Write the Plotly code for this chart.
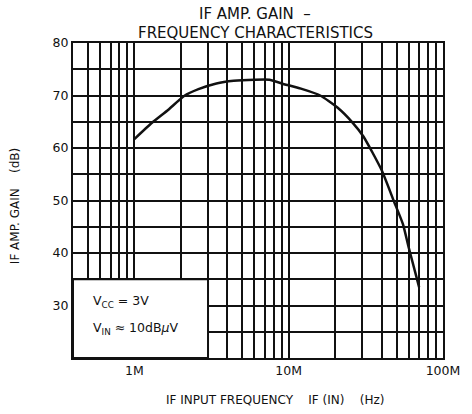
import plotly.graph_objects as go
import numpy as np

# Data
freq_hz = [1.0e6, 1.3e6, 1.66e6, 2.1e6, 2.6e6, 3.4e6, 4.4e6, 6.0e6, 7.5e6, 9.0e6,
           12e6, 16e6, 20.7e6, 26e6, 30.5e6, 40e6, 48e6, 55e6, 60e6, 70e6]
gain_db = [61.7, 64.8, 67.3, 69.9, 71.2, 72.3, 72.8, 73.0, 73.0, 72.3,
           71.3, 70.0, 67.7, 64.8, 62.2, 55.8, 49.9, 45.5, 41.0, 33.5]

x_grid = [m * 10 ** e for e in (5, 6, 7) for m in range(1, 10) if m * 10 ** e >= 4e5] + [1e8]
x_labels = {1e6: "1M", 1e7: "10M", 1e8: "100M"}
y_grid = list(range(20, 81, 5))
y_labels = {30: "30", 40: "40", 50: "50", 60: "60", 70: "70", 80: "80"}

box_x = [4e5, 3e6, 3e6, 4e5, 4e5]
box_y = [20, 20, 35, 35, 20]

FONT = "DejaVu Sans"
INK = "#111111"

fig = go.Figure()

# White condition box covering the gridlines
fig.add_trace(go.Scatter(x=box_x, y=box_y, mode="lines", fill="toself",
                         fillcolor="white", line=dict(color=INK, width=2),
                         hoverinfo="skip", showlegend=False))

fig.add_trace(go.Scatter(x=freq_hz, y=gain_db, mode="lines",
                         line=dict(color=INK, width=2.5, shape="spline", smoothing=0.5),
                         showlegend=False))

fig.update_layout(
    width=472, height=414,
    margin=dict(l=73, r=20, t=43, b=56),
    paper_bgcolor="white", plot_bgcolor="white",
    font=dict(family=FONT, color=INK, size=12),
    showlegend=False,
)

fig.update_xaxes(
    type="log", range=[np.log10(4e5), 8],
    tickmode="array", tickvals=x_grid,
    ticktext=[x_labels.get(v, "") for v in x_grid],
    showgrid=True, gridcolor=INK, gridwidth=1.5,
    showline=True, linecolor=INK, linewidth=2, mirror=True,
    ticks="", tickfont=dict(family=FONT, size=12.5, color=INK),
    zeroline=False,
)
fig.update_yaxes(
    range=[20, 80],
    tickmode="array", tickvals=y_grid,
    ticktext=[y_labels.get(v, "") for v in y_grid],
    showgrid=True, gridcolor=INK, gridwidth=1.5,
    showline=True, linecolor=INK, linewidth=2, mirror=True,
    ticks="", tickfont=dict(family=FONT, size=12.5, color=INK),
    zeroline=False,
)

def note(text, x, y, size, **kw):
    fig.add_annotation(text=text, xref="paper", yref="paper", x=x, y=y,
                       showarrow=False, font=dict(family=FONT, size=size, color=INK), **kw)

# Title (two lines)
note("IF AMP. GAIN  –", 0.492, 1.093, 15, xanchor="center", yanchor="middle")
note("FREQUENCY CHARACTERISTICS", 0.492, 1.031, 15, xanchor="center", yanchor="middle")
# Axis titles
note("IF INPUT FREQUENCY    IF (IN)    (Hz)", 0.546, -0.133, 12, xanchor="center", yanchor="middle")
note("IF AMP. GAIN    (dB)", -0.156, 0.483, 12, xanchor="center", yanchor="middle", textangle=-90)
# Conditions
note("V<sub>CC</sub> = 3V", 0.049, 0.179, 12.5, xanchor="left", yanchor="middle")
note("V<sub>IN</sub> ≈ 10dB<i>μ</i>V", 0.049, 0.095, 12.5, xanchor="left", yanchor="middle")

fig.write_html("out.html")
